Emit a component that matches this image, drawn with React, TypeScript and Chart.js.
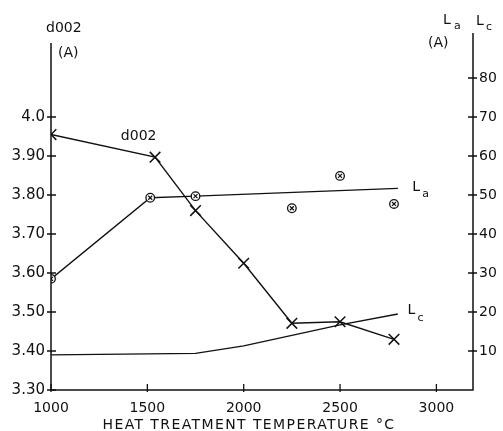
import React, { useEffect, useRef } from "react";
import { Chart, registerables } from "chart.js";

Chart.register(...registerables);

// ---- data ----
const xTicks = [1000, 1500, 2000, 2500, 3000];
const leftTicks = [3.3, 3.4, 3.5, 3.6, 3.7, 3.8, 3.9, 4.0];
const rightTicks = [10, 20, 30, 40, 50, 60, 70, 80];

const d002Temps = [1000, 1540, 1750, 2000, 2250, 2500, 2780];
const d002Values = [3.955, 3.897, 3.76, 3.625, 3.471, 3.475, 3.43];

const laTemps = [1000, 1515, 1750, 2250, 2500, 2780];
const laValues = [28.5, 49.3, 49.7, 46.6, 54.9, 47.7];

const laFitTemps = [1000, 1515, 1750, 2800];
const laFitValues = [28.5, 49.3, 49.7, 51.7];

const lcTemps = [1000, 1750, 2000, 2500, 2800];
const lcValues = [9.0, 9.4, 11.3, 16.7, 19.5];

const INK = "#111111";
const FONT = "DejaVu Sans";

const pts = (xs: number[], ys: number[]) => xs.map((x, i) => ({ x, y: ys[i] }));

const fmtLeft = (v: number) => {
  const r = Math.round(v * 100) / 100;
  return r === 4 ? "4.0" : r.toFixed(2);
};

const decorPlugin = {
  id: "decor",
  afterDraw(chart: any) {
    const ctx = chart.ctx as CanvasRenderingContext2D;
    const { left, right, bottom } = chart.chartArea;
    const xs = chart.scales.x;
    const yl = chart.scales.y;
    const yr = chart.scales.y1;
    ctx.save();
    ctx.strokeStyle = INK;
    ctx.fillStyle = INK;
    ctx.lineWidth = 1.5;
    ctx.beginPath();
    ctx.moveTo(left, 43);
    ctx.lineTo(left, bottom);
    ctx.lineTo(right, bottom);
    ctx.lineTo(right, 33);
    ctx.stroke();

    ctx.lineWidth = 1.3;
    ctx.beginPath();
    leftTicks.forEach((v) => {
      const y = yl.getPixelForValue(v);
      ctx.moveTo(left - 4, y);
      ctx.lineTo(left + 5, y);
    });
    rightTicks.forEach((v) => {
      const y = yr.getPixelForValue(v);
      ctx.moveTo(right - 5, y);
      ctx.lineTo(right + 4, y);
    });
    xTicks.forEach((v) => {
      const x = xs.getPixelForValue(v);
      ctx.moveTo(x, bottom - 6);
      ctx.lineTo(x, bottom + 2);
    });
    ctx.stroke();

    // axis titles
    ctx.textBaseline = "middle";
    ctx.textAlign = "left";
    ctx.font = `14px ${FONT}`;
    ctx.fillText("d002", 46, 28);
    ctx.fillText("(A)", 58, 53);
    ctx.fillText("(A)", 428, 43);
    ctx.fillText("L", 443, 20);
    ctx.fillText("L", 476, 21);
    ctx.font = `11px ${FONT}`;
    ctx.fillText("a", 454, 26);
    ctx.fillText("c", 486, 27);

    // in-plot labels (data coordinates)
    ctx.font = `14px ${FONT}`;
    ctx.textAlign = "center";
    ctx.fillText("d002", xs.getPixelForValue(1455), yl.getPixelForValue(3.95));
    ctx.textAlign = "left";
    const laX = xs.getPixelForValue(2875);
    const laY = yr.getPixelForValue(51.5);
    ctx.fillText("L", laX, laY - 2);
    ctx.font = `11px ${FONT}`;
    ctx.fillText("a", laX + 10, laY + 5);
    ctx.font = `14px ${FONT}`;
    const lcX = xs.getPixelForValue(2850);
    const lcY = yr.getPixelForValue(20);
    ctx.fillText("L", lcX, lcY - 2);
    ctx.font = `11px ${FONT}`;
    ctx.fillText("c", lcX + 10, lcY + 6);

    // x title
    ctx.font = `14px ${FONT}`;
    ctx.textAlign = "center";
    (ctx as any).letterSpacing = "1.4px";
    ctx.fillText("HEAT TREATMENT TEMPERATURE °C", 249, 425);
    ctx.restore();
  },
};

export default function App() {
  const ref = useRef<HTMLCanvasElement | null>(null);

  useEffect(() => {
    if (!ref.current) return;
    const chart = new Chart(ref.current, {
      type: "scatter",
      data: {
        datasets: [
          {
            label: "d002",
            data: pts(d002Temps, d002Values),
            showLine: true,
            yAxisID: "y",
            borderColor: INK,
            borderWidth: 1.4,
            pointStyle: "crossRot",
            pointRadius: 7.5,
            pointBorderWidth: 1.5,
            pointBorderColor: INK,
            order: 3,
          },
          {
            label: "La fit",
            data: pts(laFitTemps, laFitValues),
            showLine: true,
            yAxisID: "y1",
            borderColor: INK,
            borderWidth: 1.4,
            pointRadius: 0,
            order: 4,
          },
          {
            label: "Lc",
            data: pts(lcTemps, lcValues),
            showLine: true,
            yAxisID: "y1",
            borderColor: INK,
            borderWidth: 1.4,
            pointRadius: 0,
            order: 5,
          },
          {
            label: "La circle",
            data: pts(laTemps, laValues),
            yAxisID: "y1",
            pointStyle: "circle",
            pointRadius: 4.3,
            pointBorderWidth: 1.3,
            pointBorderColor: INK,
            pointBackgroundColor: "#ffffff",
            order: 2,
          },
          {
            label: "La cross",
            data: pts(laTemps, laValues),
            yAxisID: "y1",
            pointStyle: "crossRot",
            pointRadius: 2.8,
            pointBorderWidth: 1.2,
            pointBorderColor: INK,
            order: 1,
          },
        ],
      },
      options: {
        animation: false,
        responsive: true,
        maintainAspectRatio: false,
        layout: { padding: { top: 39, left: 0, right: 0, bottom: 0 } },
        plugins: {
          legend: { display: false },
          tooltip: { enabled: false },
        },
        scales: {
          x: {
            type: "linear",
            min: 1000,
            max: 3190,
            afterBuildTicks: (s: any) => {
              s.ticks = xTicks.map((v) => ({ value: v }));
            },
            afterFit: (s: any) => {
              s.height = 41;
            },
            grid: { display: false, drawTicks: false, tickLength: 0 },
            border: { display: false },
            ticks: {
              padding: 10,
              color: INK,
              font: { family: FONT, size: 14 },
              maxRotation: 0,
              callback: (v: any) => String(v),
            },
          },
          y: {
            type: "linear",
            position: "left",
            min: 3.3,
            max: 4.2,
            afterBuildTicks: (s: any) => {
              s.ticks = leftTicks.map((v) => ({ value: v }));
            },
            afterFit: (s: any) => {
              s.width = 51;
            },
            grid: { display: false, drawTicks: false, tickLength: 0 },
            border: { display: false },
            ticks: {
              padding: 6,
              color: INK,
              font: { family: FONT, size: 15 },
              callback: (v: any) => fmtLeft(Number(v)),
            },
          },
          y1: {
            type: "linear",
            position: "right",
            min: 0,
            max: 90,
            afterBuildTicks: (s: any) => {
              s.ticks = rightTicks.map((v) => ({ value: v }));
            },
            afterFit: (s: any) => {
              s.width = 30;
            },
            grid: { display: false, drawTicks: false, tickLength: 0 },
            border: { display: false },
            ticks: {
              padding: 6,
              color: INK,
              font: { family: FONT, size: 14 },
              callback: (v: any) => String(v),
            },
          },
        },
      },
      plugins: [decorPlugin],
    });
    return () => chart.destroy();
  }, []);

  return (
    <div style={{ position: "absolute", left: 0, top: 0, width: 503, height: 431, background: "#fff" }}>
      <canvas ref={ref} />
    </div>
  );
}
